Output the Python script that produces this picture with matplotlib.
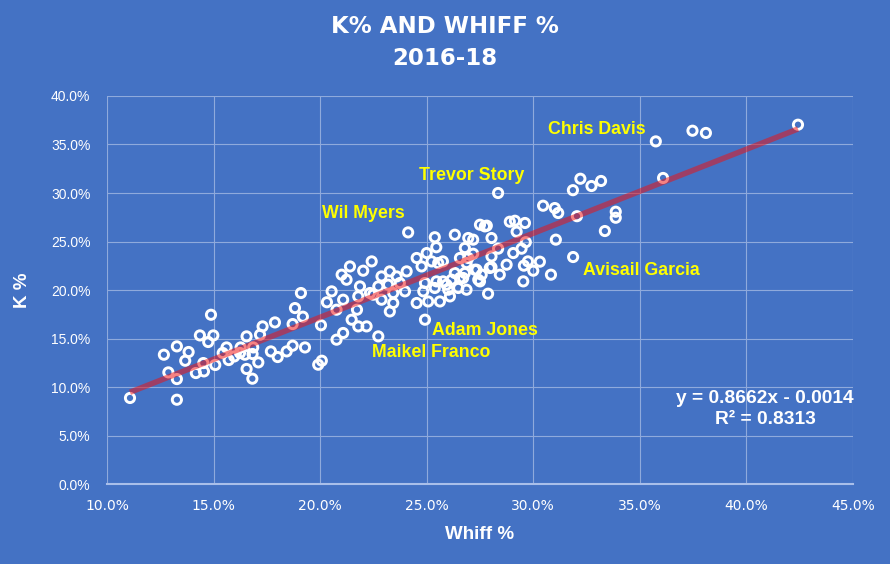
import matplotlib
matplotlib.use("Agg")
import matplotlib.pyplot as plt
import numpy as np

# Whiff % and K % (fractions)
whiff = [0.1108,0.1328,0.1488,0.1267,0.1328,0.1383,0.1367,0.1288,0.1328,0.1417,0.1452,0.1455,0.1436,0.1475,0.1499,0.1508,0.1543,0.1561,0.1571,0.1597,0.1627,0.1655,0.1647,0.1683,0.1655,0.1682,0.1710,0.1718,0.1730,0.1788,0.1769,0.1801,0.1843,0.1871,0.1871,0.1882,0.1686,0.1624,0.1910,0.1919,0.1929,0.2004,0.2032,0.1991,0.2008,0.2054,0.2108,0.2077,0.2101,0.2140,0.2124,0.2077,0.2108,0.2148,0.2173,0.2179,0.2179,0.2187,0.2202,0.2242,0.2234,0.2218,0.2273,0.2288,0.2327,0.2359,0.2406,0.2273,0.2319,0.2374,0.2398,0.2343,0.2288,0.2343,0.2327,0.2249,0.2453,0.2500,0.2476,0.2523,0.2554,0.2492,0.2546,0.2484,0.2538,0.2453,0.2507,0.2492,0.2413,0.2538,0.2545,0.2577,0.2617,0.2656,0.2601,0.2648,0.2562,0.2609,0.2656,0.2687,0.2632,0.2695,0.2718,0.2679,0.2804,0.2835,0.2804,0.2695,0.2718,0.2687,0.2726,0.2679,0.2632,0.2576,0.2804,0.2843,0.2875,0.2788,0.2750,0.2758,0.2593,0.2671,0.2734,0.2742,0.2796,0.2750,0.2782,0.2835,0.2773,0.2890,0.2914,0.2961,0.2922,0.2965,0.2945,0.2906,0.2956,0.2975,0.3000,0.3031,0.2953,0.3083,0.3106,0.3187,0.3046,0.3101,0.3117,0.3205,0.3387,0.3387,0.3336,0.3186,0.3221,0.3273,0.3318,0.3575,0.3747,0.3810,0.3609,0.4242]
k_pct = [0.0887,0.0869,0.1745,0.1333,0.1419,0.1361,0.1271,0.1151,0.1082,0.1144,0.1247,0.1161,0.1532,0.1464,0.1532,0.1227,0.1351,0.1408,0.1278,0.1315,0.1408,0.1522,0.1333,0.1340,0.1186,0.1086,0.1254,0.1539,0.1625,0.1666,0.1367,0.1309,0.1367,0.1426,0.1649,0.1814,0.1408,0.1351,0.1969,0.1725,0.1408,0.1637,0.1874,0.1230,0.1271,0.1986,0.1900,0.1797,0.2158,0.2243,0.2106,0.1488,0.1557,0.1694,0.1797,0.1625,0.1934,0.2037,0.2199,0.2295,0.1969,0.1625,0.1522,0.2140,0.2192,0.2140,0.2192,0.2037,0.2055,0.2072,0.1986,0.1969,0.1900,0.1866,0.1779,0.1952,0.2330,0.2381,0.2243,0.2295,0.2278,0.2072,0.2089,0.1986,0.2021,0.1866,0.1882,0.1694,0.2594,0.2544,0.2441,0.2089,0.2106,0.2124,0.2003,0.2021,0.1882,0.1934,0.2330,0.2003,0.2570,0.2536,0.2519,0.2433,0.2536,0.2426,0.2346,0.2330,0.2374,0.2278,0.2209,0.2175,0.2175,0.2295,0.2235,0.2158,0.2261,0.1962,0.2089,0.2158,0.2055,0.2124,0.2209,0.2106,0.2227,0.2673,0.2663,0.3000,0.2656,0.2704,0.2714,0.2691,0.2601,0.2493,0.2426,0.2381,0.2251,0.2295,0.2199,0.2292,0.2089,0.2158,0.2519,0.2340,0.2869,0.2845,0.2794,0.2761,0.2807,0.2745,0.2608,0.3029,0.3147,0.3072,0.3124,0.3532,0.3642,0.3619,0.3155,0.3704]

name_labels = ["Chris Davis", "Trevor Story", "Wil Myers", "Avisail Garcia", "Adam Jones", "Maikel Franco"]
name_x = [0.3068, 0.2463, 0.2008, 0.3233, 0.2524, 0.2243]
name_y = [0.365, 0.318, 0.2785, 0.220, 0.158, 0.1355]

x_ticks = [0.10, 0.15, 0.20, 0.25, 0.30, 0.35, 0.40, 0.45]
y_ticks = [0.00, 0.05, 0.10, 0.15, 0.20, 0.25, 0.30, 0.35, 0.40]

bg = "#4472C4"
fig = plt.figure(figsize=(8.9, 5.64), dpi=100, facecolor=bg)
ax = fig.add_axes([0.1202, 0.1418, 0.8382, 0.6880], facecolor=bg)

n = min(len(whiff), len(k_pct))
xa = np.array(whiff[:n])
ya = np.array(k_pct[:n])
ax.scatter(xa, ya, s=44, facecolors="none", edgecolors="white", linewidths=2.1, zorder=3)

# linear trendline (Excel values shown in the label)
slope, intercept = 0.8662, -0.0014
xs = np.array([xa.min(), xa.max()])
ax.plot(xs, slope * xs + intercept, color="#F01010", alpha=0.52, lw=4, zorder=4,
        solid_capstyle="butt")

ax.set_xlim(0.10, 0.45)
ax.set_ylim(0.0, 0.40)
ax.set_xticks(x_ticks)
ax.set_yticks(y_ticks)
ax.set_xticklabels([f"{t*100:.1f}%" for t in x_ticks])
ax.set_yticklabels([f"{t*100:.1f}%" for t in y_ticks])
ax.grid(True, color="#8FAADC", lw=0.8, zorder=0)
ax.set_axisbelow(True)
for s in ax.spines.values():
    s.set_visible(False)
ax.spines["bottom"].set_visible(True)
ax.spines["bottom"].set_color("#A9BFEA")
ax.spines["bottom"].set_linewidth(1.5)
ax.tick_params(colors="white", length=0)
ax.tick_params(axis="x", labelsize=10, pad=11)
ax.tick_params(axis="y", labelsize=10, pad=12)
for lab in ax.get_xticklabels():
    lab.set_color("white")
    lab.set_fontfamily("DejaVu Sans")
for lab in ax.get_yticklabels():
    lab.set_color("white")
    lab.set_fontfamily("Liberation Sans")

ax.set_xlabel("Whiff %", color="white", fontsize=13.5, fontweight="bold",
              fontfamily="Liberation Sans", labelpad=9)
ax.set_ylabel("K %", color="white", fontsize=13.5, fontweight="bold",
              fontfamily="Liberation Sans", labelpad=14)

fig.text(0.5, 0.953, "K% AND WHIFF %", ha="center", va="center", color="white",
         fontsize=16.5, fontweight="bold", fontfamily="DejaVu Sans")
fig.text(0.5, 0.897, "2016-18", ha="center", va="center", color="white",
         fontsize=16.5, fontweight="bold", fontfamily="DejaVu Sans")

for lbl, lx, ly in zip(name_labels, name_x, name_y):
    ax.text(lx, ly, lbl, color="#FFFF00", fontsize=12.8, fontweight="bold",
            fontfamily="Liberation Sans", ha="left", va="center", zorder=5)

ax.text(0.4088, 0.0775, "y = 0.8662x - 0.0014\nR² = 0.8313", color="white",
        fontsize=13.8, fontweight="bold", fontfamily="Liberation Sans",
        ha="center", va="center", multialignment="center", linespacing=1.3, zorder=5)

fig.savefig("out.png", dpi=100, facecolor=bg)
